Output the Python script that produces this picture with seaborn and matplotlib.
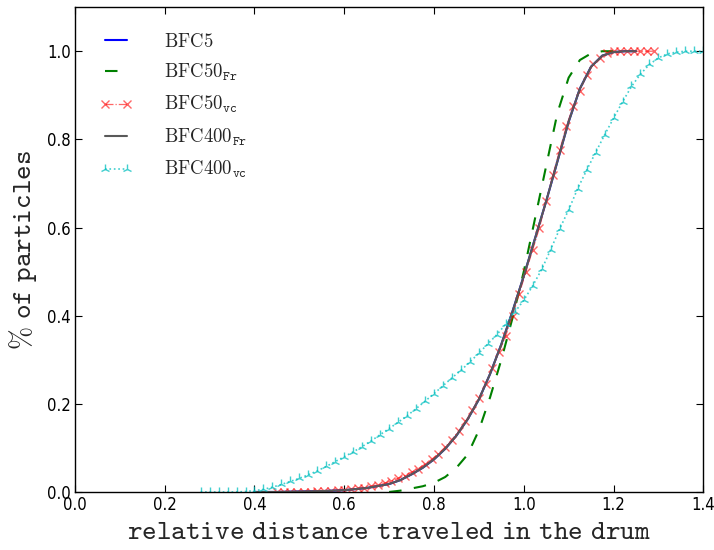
import matplotlib
matplotlib.use("Agg")
import matplotlib.pyplot as plt
import seaborn as sns

# ---- data ----
bfc400fr_x = [0.400, 0.450, 0.500, 0.550, 0.600, 0.650, 0.700, 0.725, 0.750, 0.775,
              0.800, 0.825, 0.850, 0.875, 0.900, 0.925, 0.950, 0.975, 1.000, 1.025,
              1.050, 1.075, 1.100, 1.125, 1.150, 1.175, 1.200, 1.225, 1.250]
bfc400fr_y = [0.000, 0.000, 0.001, 0.002, 0.004, 0.009, 0.018, 0.027, 0.040, 0.055,
              0.074, 0.098, 0.128, 0.165, 0.210, 0.268, 0.335, 0.410, 0.490, 0.575,
              0.660, 0.750, 0.840, 0.915, 0.965, 0.990, 0.998, 1.000, 1.000]

# BFC5 lies underneath BFC400_Fr
bfc5_x = [0.400, 0.450, 0.500, 0.550, 0.600, 0.650, 0.700, 0.725, 0.750, 0.775,
          0.800, 0.825, 0.850, 0.875, 0.900, 0.925, 0.950, 0.975, 1.000, 1.025,
          1.050, 1.075, 1.100, 1.125, 1.150, 1.175, 1.200, 1.225, 1.250]
bfc5_y = [0.000, 0.000, 0.001, 0.002, 0.004, 0.009, 0.018, 0.027, 0.040, 0.055,
          0.074, 0.098, 0.128, 0.165, 0.210, 0.268, 0.335, 0.410, 0.490, 0.575,
          0.660, 0.750, 0.840, 0.915, 0.965, 0.990, 0.998, 1.000, 1.000]

bfc50fr_x = [0.700, 0.725, 0.750, 0.775, 0.800, 0.825, 0.850, 0.875, 0.900, 0.925,
             0.950, 0.975, 1.000, 1.025, 1.050, 1.075, 1.100, 1.125, 1.150, 1.175, 1.200]
bfc50fr_y = [0.000, 0.003, 0.008, 0.013, 0.021, 0.034, 0.055, 0.085, 0.140, 0.215,
             0.300, 0.395, 0.500, 0.620, 0.740, 0.860, 0.940, 0.980, 0.995, 1.000, 1.000]

bfc50vc_x = [0.450, 0.465, 0.480, 0.495, 0.510, 0.525, 0.540, 0.555, 0.570, 0.585,
             0.600, 0.615, 0.630, 0.645, 0.660, 0.675, 0.690, 0.705, 0.720, 0.735,
             0.750, 0.765, 0.780, 0.795, 0.810, 0.825, 0.840, 0.855, 0.870, 0.885,
             0.900, 0.915, 0.930, 0.945, 0.960, 0.975, 0.990, 1.005, 1.020, 1.035,
             1.050, 1.065, 1.080, 1.095, 1.110, 1.125, 1.140, 1.155, 1.170, 1.185,
             1.200, 1.215, 1.230, 1.245, 1.260, 1.275, 1.290]
bfc50vc_y = [0.000, 0.000, 0.000, 0.001, 0.001, 0.001, 0.002, 0.002, 0.003, 0.004,
             0.005, 0.006, 0.008, 0.010, 0.013, 0.016, 0.020, 0.025, 0.031, 0.037,
             0.045, 0.053, 0.063, 0.074, 0.087, 0.102, 0.119, 0.138, 0.160, 0.185,
             0.213, 0.245, 0.282, 0.318, 0.355, 0.400, 0.450, 0.500, 0.550, 0.600,
             0.660, 0.720, 0.775, 0.830, 0.875, 0.910, 0.945, 0.970, 0.985, 0.996,
             1.000, 1.000, 1.000, 1.000, 1.000, 1.000, 1.000]

bfc400vc_x = [0.28, 0.30, 0.32, 0.34, 0.36, 0.38, 0.40, 0.42, 0.44, 0.46,
              0.48, 0.50, 0.52, 0.54, 0.56, 0.58, 0.60, 0.62, 0.64, 0.66,
              0.68, 0.70, 0.72, 0.74, 0.76, 0.78, 0.80, 0.82, 0.84, 0.86,
              0.88, 0.90, 0.92, 0.94, 0.96, 0.98, 1.00, 1.02, 1.04, 1.06,
              1.08, 1.10, 1.12, 1.14, 1.16, 1.18, 1.20, 1.22, 1.24, 1.26,
              1.28, 1.30, 1.32, 1.34, 1.36, 1.38, 1.40]
bfc400vc_y = [0.000, 0.000, 0.000, 0.000, 0.000, 0.001, 0.003, 0.006, 0.011, 0.017,
              0.024, 0.031, 0.039, 0.048, 0.058, 0.069, 0.080, 0.091, 0.103, 0.116,
              0.130, 0.144, 0.158, 0.173, 0.189, 0.206, 0.223, 0.241, 0.259, 0.276,
              0.295, 0.315, 0.336, 0.357, 0.381, 0.408, 0.435, 0.468, 0.505, 0.550,
              0.597, 0.640, 0.688, 0.730, 0.770, 0.810, 0.848, 0.885, 0.920, 0.948,
              0.970, 0.985, 0.994, 0.998, 1.000, 1.000, 1.000]

labels = [r'$\mathrm{BFC5}$',
          r'$\mathrm{BFC50}_{\mathtt{Fr}}$',
          r'$\mathrm{BFC50}_{\mathtt{vc}}$',
          r'$\mathrm{BFC400}_{\mathtt{Fr}}$',
          r'$\mathrm{BFC400}_{\mathtt{vc}}$']
x_ticks = [0.0, 0.2, 0.4, 0.6, 0.8, 1.0, 1.2, 1.4]
y_ticks = [0.0, 0.2, 0.4, 0.6, 0.8, 1.0]

# ---- plotting ----
sns.set_style("ticks")
plt.rcParams['font.family'] = ['DejaVu Sans']
plt.rcParams['mathtext.fontset'] = 'cm'

fig = plt.figure(figsize=(7.14, 5.5), dpi=100)
ax = fig.add_axes([0.105, 0.1055, 0.88, 0.8815])

series = [
    (bfc5_x, bfc5_y, dict(color='#0000ff', lw=1.5, ls='-', marker=None)),
    (bfc50fr_x, bfc50fr_y, dict(color='#008000', lw=1.5, ls=(0, (6, 6)), marker=None)),
    (bfc50vc_x, bfc50vc_y, dict(color='#ff0000', lw=0.9, ls='-.', marker='x',
                                ms=5.5, mew=1.0, alpha=0.6)),
    (bfc400fr_x, bfc400fr_y, dict(color='#595959', lw=1.5, ls='-', marker=None)),
    (bfc400vc_x, bfc400vc_y, dict(color='#00bfbf', lw=1.2, ls=':', marker='2',
                                  ms=6.5, mew=1.0, alpha=0.75)),
]

handles = []
for (xs, ys, st), lab in zip(series, labels):
    sns.lineplot(x=xs, y=ys, ax=ax, color=st['color'], estimator=None, sort=False)
    ln = ax.lines[-1]
    ln.set_linewidth(st['lw'])
    ln.set_linestyle(st['ls'])
    if st.get('marker'):
        ln.set_marker(st['marker'])
        ln.set_markersize(st['ms'])
        ln.set_markeredgewidth(st['mew'])
        ln.set_markeredgecolor(st['color'])
    if 'alpha' in st:
        ln.set_alpha(st['alpha'])
    ln.set_label(lab)
    handles.append(ln)

ax.set_xlim(0.0, 1.4)
ax.set_ylim(0.0, 1.1)
ax.set_xticks(x_ticks)
ax.set_yticks(y_ticks)
ax.set_xticklabels([f"{t:.1f}" for t in x_ticks], fontstretch='condensed')
ax.set_yticklabels([f"{t:.1f}" for t in y_ticks], fontstretch='condensed')
ax.tick_params(direction='in', top=True, right=True, labelsize=12, length=5,
               width=0.8, colors='black', pad=3)
for s in ax.spines.values():
    s.set_color('black')
    s.set_linewidth(1.0)

ax.set_xlabel(r'$\mathtt{relative\ distance\ traveled\ in\ the\ drum}$', fontsize=20,
              labelpad=2)
ax.set_ylabel(r'$\%\ \mathtt{of\ particles}$', fontsize=20, labelpad=6)

leg = ax.legend(handles=handles, loc='upper left', frameon=False, fontsize=13.5,
                numpoints=2, handlelength=1.76, handletextpad=1.7,
                labelspacing=0.6, borderaxespad=0.9, borderpad=0.4)

fig.savefig("out.png", dpi=100)
